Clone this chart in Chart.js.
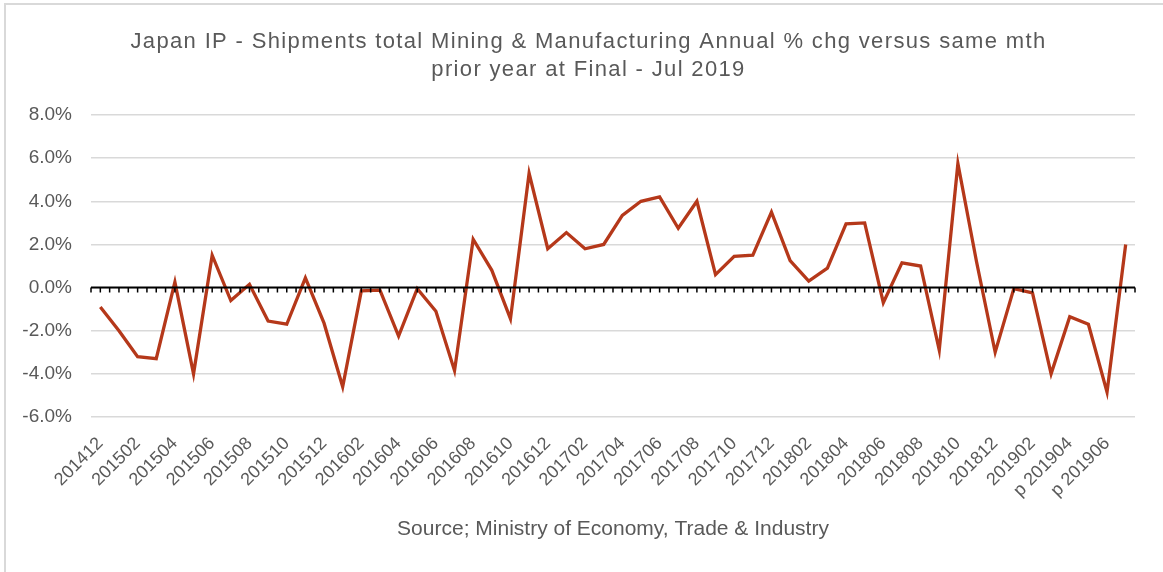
<!DOCTYPE html>
<html>
<head>
<meta charset="utf-8">
<script src="https://cdn.jsdelivr.net/npm/chart.js@4/dist/chart.umd.min.js"></script>
<style>
  body { margin: 0; background: #fff; }
  #marco { position: absolute; left: 4px; top: 3px; width: 1200px; height: 600px; border: 2px solid #d9d9d9; box-sizing: border-box; }
  #caja { position: absolute; left: 0; top: 0; width: 1163px; height: 572px; }
</style>
</head>
<body>
<div id="marco"></div>
<div id="caja"><canvas id="grafico"></canvas></div>
<script>
// Datos (variacion anual %)
const meses = [
  '201412', '201501', '201502', '201503', '201504', '201505', '201506', '201507', '201508', '201509', '201510', '201511',
  '201512', '201601', '201602', '201603', '201604', '201605', '201606', '201607', '201608', '201609', '201610', '201611',
  '201612', '201701', '201702', '201703', '201704', '201705', '201706', '201707', '201708', '201709', '201710', '201711',
  '201712', '201801', '201802', '201803', '201804', '201805', '201806', '201807', '201808', '201809', '201810', '201811',
  '201812', '201901', '201902', '201903', 'p 201904', 'p 201905', 'p 201906', 'p 201907'
];
const variacion = [
  -0.9, -2.0, -3.2, -3.3, 0.25, -4.0, 1.5, -0.6, 0.15, -1.55, -1.7, 0.45,
  -1.65, -4.6, -0.15, -0.12, -2.25, -0.05, -1.1, -3.85, 2.24, 0.8, -1.45, 5.3,
  1.8, 2.55, 1.8, 2.0, 3.35, 4.0, 4.2, 2.75, 4.0, 0.6, 1.45, 1.5,
  3.5, 1.25, 0.3, 0.9, 2.95, 3.0, -0.7, 1.15, 1.0, -2.9, 5.75, 1.2,
  -3.0, -0.05, -0.25, -4.0, -1.35, -1.7, -4.85, 2.0
];
const ticksY = [-6, -4, -2, 0, 2, 4, 6, 8];

const gris = '#595959';
const fuente = "'Liberation Sans', Arial, sans-serif";

// Linea del cero con marcas pequeñas por debajo
const lineaCero = {
  id: 'lineaCero',
  afterDatasetsDraw(chart) {
    const { ctx, chartArea, scales } = chart;
    const y0 = scales.y.getPixelForValue(0);
    const paso = (scales.x.getPixelForValue(1) - scales.x.getPixelForValue(0)) / 2;
    ctx.save();
    ctx.strokeStyle = '#000';
    ctx.lineWidth = 1.5;
    ctx.beginPath();
    for (let x = chartArea.left; x <= chartArea.right + 0.5; x += paso) {
      ctx.moveTo(x, y0);
      ctx.lineTo(x, y0 + 5);
    }
    ctx.stroke();
    ctx.lineWidth = 2;
    ctx.beginPath();
    ctx.moveTo(chartArea.left, y0);
    ctx.lineTo(chartArea.right, y0);
    ctx.stroke();
    ctx.restore();
  }
};

// El titulo del original tiene las letras mas separadas y esta algo a la derecha
const espaciadoTitulo = {
  id: 'espaciadoTitulo',
  beforeDraw(chart) {
    const bloque = chart.titleBlock;
    if (!bloque || bloque._espaciado) return;
    const dibujar = bloque.draw;
    bloque.draw = function () {
      const c = this.ctx;
      c.save();
      c.letterSpacing = '1.35px';
      c.translate(16, 0);
      dibujar.apply(this, arguments);
      c.restore();
    };
    bloque._espaciado = true;
  }
};

const ctx = document.getElementById('grafico').getContext('2d');
const myChart = new Chart(ctx, {
  type: 'line',
  data: {
    labels: meses,
    datasets: [{
      data: variacion,
      borderColor: '#b5381a',
      borderWidth: 3.3,
      pointRadius: 0,
      tension: 0,
      fill: false
    }]
  },
  options: {
    responsive: true,
    maintainAspectRatio: false,
    animation: false,
    layout: { padding: { left: 10, right: 28, top: 10, bottom: 20 } },
    plugins: {
      legend: { display: false },
      tooltip: { enabled: false },
      title: {
        display: true,
        text: ['Japan IP - Shipments total Mining & Manufacturing Annual % chg versus same mth', 'prior year at Final - Jul 2019'],
        color: gris,
        font: { family: fuente, size: 22, weight: 'normal', lineHeight: 1.273 },
        padding: { top: 18, bottom: 31 }
      }
    },
    scales: {
      x: {
        offset: true,
        border: { display: false },
        grid: { display: false },
        ticks: {
          autoSkip: false,
          maxRotation: 45,
          minRotation: 45,
          padding: 8,
          color: gris,
          font: { family: fuente, size: 18 },
          callback: function (valor, i) { return i % 2 === 0 ? meses[i] : ''; }
        },
        title: {
          display: true,
          text: 'Source; Ministry of Economy, Trade & Industry',
          color: gris,
          font: { family: fuente, size: 21 },
          padding: { top: 4, bottom: 10 }
        },
        afterFit: function (escala) { escala.height = 135; }
      },
      y: {
        min: -6,
        max: 8,
        border: { display: false },
        grid: { color: '#d9d9d9', lineWidth: 1.5, drawTicks: false },
        afterBuildTicks: function (escala) { escala.ticks = ticksY.map(v => ({ value: v })); },
        ticks: {
          padding: 19,
          color: gris,
          font: { family: fuente, size: 19 },
          callback: function (v) { return v.toFixed(1) + '%'; }
        },
        afterFit: function (escala) { escala.width = 81; }
      }
    }
  },
  plugins: [lineaCero, espaciadoTitulo]
});
</script>
</body>
</html>
